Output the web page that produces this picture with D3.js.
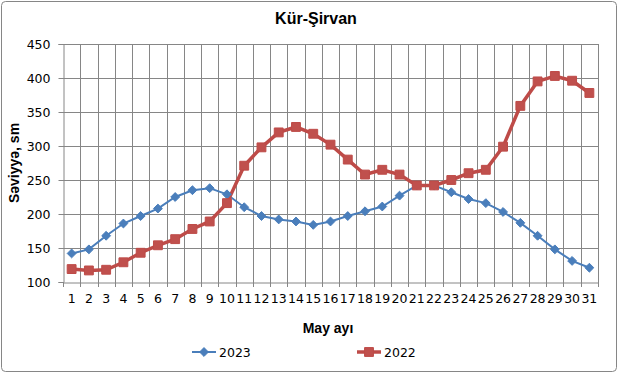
<!DOCTYPE html>
<html>
<head>
<meta charset="utf-8">
<script src="https://cdn.jsdelivr.net/npm/d3@7"></script>
<style>
  html, body { margin: 0; padding: 0; background: #fff; }
  svg { display: block; }
  .tick text { font-family: "DejaVu Sans", sans-serif; font-size: 12.5px; fill: #000; }
  .ttl { font-family: "Liberation Sans", Arial, sans-serif; font-weight: bold; fill: #000; }
</style>
</head>
<body>
<div id="chart"></div>
<script>
const days = d3.range(1, 32);
const yTicks = [100, 150, 200, 250, 300, 350, 400, 450];
const s2023 = [142, 148, 168, 186, 197, 208, 225, 235, 238, 229,
               210, 197, 192, 189, 184, 189, 197, 204, 211, 227,
               242, 242, 232, 222, 216, 203, 187, 168, 148, 131, 121];
const s2022 = [119, 117, 118, 129, 143, 154, 163, 178, 189, 216,
               271, 298, 320, 328, 318, 302, 280, 258, 265, 258,
               242, 242, 250, 260, 265, 299, 359, 395, 403, 396, 378];
const seriesNames = ["2023", "2022"];

const width = 619, height = 376;
const plot = { left: 63, right: 598, top: 44, bottom: 282 };
const blue = "#4a7ebb", red = "#be4b48";

const svg = d3.select("#chart").append("svg")
  .attr("width", width).attr("height", height);

// outer frame
svg.append("rect")
  .attr("x", 1.5).attr("y", 1.5)
  .attr("width", width - 4).attr("height", height - 6)
  .attr("rx", 4)
  .attr("fill", "#fff").attr("stroke", "#868686");

const x = d3.scaleBand().domain(days).range([plot.left, plot.right]);
const y = d3.scaleLinear().domain([100, 450]).range([plot.bottom, plot.top]);
const xc = d => x(d) + x.bandwidth() / 2;

// horizontal grid
svg.append("g")
  .selectAll("line").data(yTicks.slice(1)).join("line")
  .attr("x1", plot.left).attr("x2", plot.right)
  .attr("y1", d => Math.round(y(d)) + 0.5).attr("y2", d => Math.round(y(d)) + 0.5)
  .attr("stroke", "#868686");

// vertical grid (category boundaries)
const bounds = days.map(d => x(d)).concat([plot.right]);
svg.append("g")
  .selectAll("line").data(bounds.slice(1)).join("line")
  .attr("x1", d => Math.round(d) + 0.5).attr("x2", d => Math.round(d) + 0.5)
  .attr("y1", plot.top).attr("y2", plot.bottom)
  .attr("stroke", "#868686");

// y axis
const axY = svg.append("g")
  .attr("transform", `translate(${plot.left + 0.5},0)`)
  .call(d3.axisLeft(y).tickValues(yTicks).tickSize(5).tickPadding(8));
axY.select(".domain").attr("stroke", "#868686");
axY.selectAll(".tick line").attr("stroke", "#868686");

// x axis
const axX = svg.append("g")
  .attr("transform", `translate(0,${plot.bottom + 0.5})`)
  .call(d3.axisBottom(x).tickSize(0).tickPadding(12));
axX.select(".domain").attr("stroke", "#868686");
svg.append("g").selectAll("line").data(bounds).join("line")
  .attr("x1", d => Math.round(d) + 0.5).attr("x2", d => Math.round(d) + 0.5)
  .attr("y1", plot.bottom).attr("y2", plot.bottom + 5)
  .attr("stroke", "#868686");

// lines
const line = d3.line().x((v, i) => xc(days[i])).y(v => y(v));

svg.append("path").datum(s2023)
  .attr("fill", "none").attr("stroke", blue).attr("stroke-width", 2)
  .attr("d", line);

svg.append("path").datum(s2022)
  .attr("fill", "none").attr("stroke", red).attr("stroke-width", 3.5)
  .attr("d", line);

const diamond = d3.symbol().type(d3.symbolDiamond2).size(50);
const square = d3.symbol().type(d3.symbolSquare2).size(100);

svg.append("g").selectAll("path").data(s2023).join("path")
  .attr("transform", (v, i) => `translate(${xc(days[i])},${y(v)})`)
  .attr("d", diamond)
  .attr("fill", blue).attr("stroke", blue).attr("stroke-width", 1);

svg.append("g").selectAll("path").data(s2022).join("path")
  .attr("transform", (v, i) => `translate(${xc(days[i])},${y(v)})`)
  .attr("d", square)
  .attr("fill", "#c0504d").attr("stroke", red).attr("stroke-width", 1);

// titles
svg.append("text").attr("class", "ttl")
  .attr("x", 316).attr("y", 24).attr("text-anchor", "middle")
  .attr("font-size", 16).text("Kür-Şirvan");

svg.append("text").attr("class", "ttl")
  .attr("transform", `translate(19,${(plot.top + plot.bottom) / 2}) rotate(-90)`)
  .attr("text-anchor", "middle").attr("font-size", 14)
  .text("Səviyyə, sm");

svg.append("text").attr("class", "ttl")
  .attr("x", 328).attr("y", 333).attr("text-anchor", "middle")
  .attr("font-size", 14).text("May ayı");

// legend
const legend = svg.append("g").attr("transform", "translate(0,352)");
const legItems = [
  { name: seriesNames[0], x0: 192, color: blue, sw: 2, sym: diamond, fill: blue },
  { name: seriesNames[1], x0: 357, color: red, sw: 3.5, sym: square, fill: "#c0504d" }
];
legItems.forEach(it => {
  legend.append("line")
    .attr("x1", it.x0).attr("x2", it.x0 + 24).attr("y1", 0).attr("y2", 0)
    .attr("stroke", it.color).attr("stroke-width", it.sw);
  legend.append("path")
    .attr("transform", `translate(${it.x0 + 12},0)`)
    .attr("d", it.sym).attr("fill", it.fill).attr("stroke", it.color);
  legend.append("text")
    .attr("x", it.x0 + 27).attr("y", 4.5)
    .style("font-family", "DejaVu Sans, sans-serif").style("font-size", "12.5px")
    .text(it.name);
});
</script>
</body>
</html>
